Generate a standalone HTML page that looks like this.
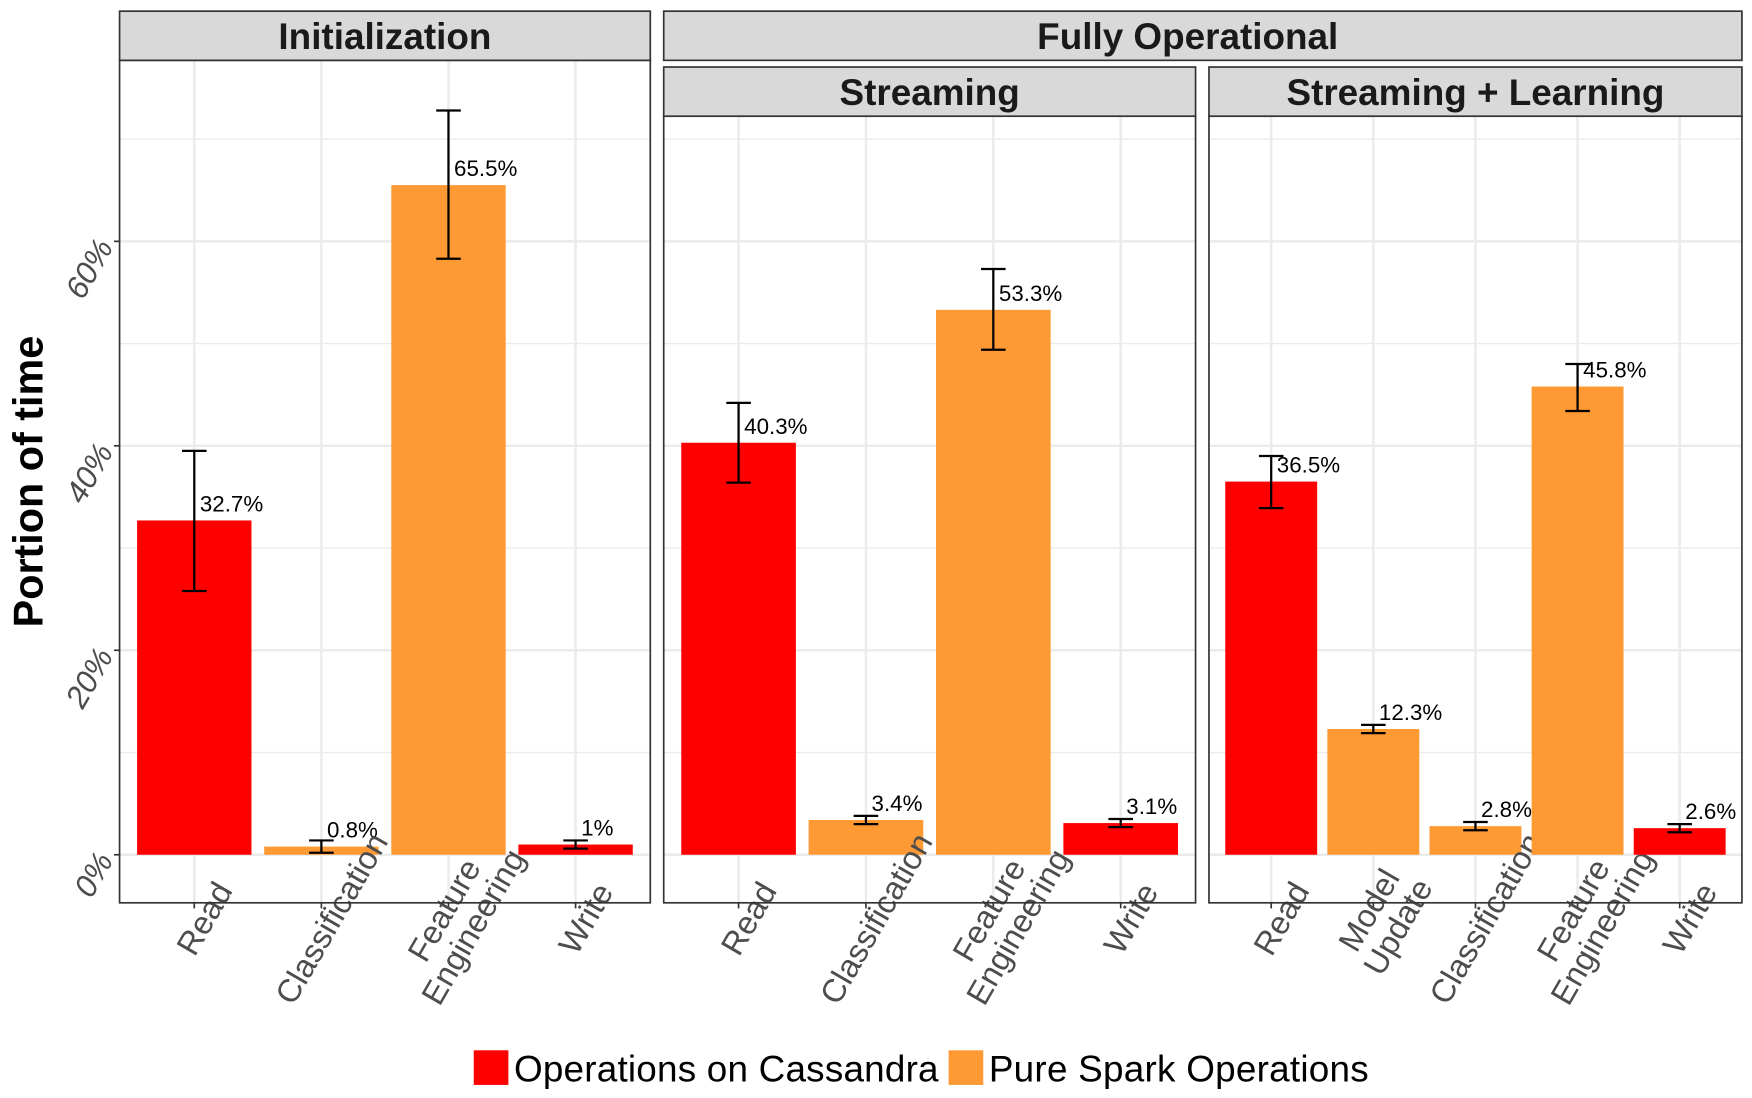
<!DOCTYPE html>
<html><head><meta charset="utf-8"><style>
html,body{margin:0;padding:0;background:#fff;}
svg{display:block;font-family:"Liberation Sans",sans-serif;}
</style></head><body>
<svg id="chart" width="1752" height="1098" viewBox="0 0 1568 982.7" xmlns="http://www.w3.org/2000/svg">
<text x="0" y="0" transform="translate(38,431) rotate(-90)" text-anchor="middle" font-size="37" font-weight="bold" fill="#000">Portion of time</text>
<g>
<rect x="424" y="940" width="31" height="31" fill="#ff0000"/>
<text x="460" y="968" font-size="33" fill="#000" textLength="380">Operations on Cassandra</text>
<rect x="849" y="940" width="31" height="31" fill="#ff9933"/>
<text x="885" y="968" font-size="33" fill="#000" textLength="340">Pure Spark Operations</text>
</g>
<g>
<rect x="594" y="10" width="965" height="44" fill="#d9d9d9" stroke="#333" stroke-width="1.5"/>
<text x="1063" y="44" text-anchor="middle" font-size="33" font-weight="bold" fill="#1a1a1a">Fully Operational</text>
</g>
</svg>
<script>
const p1Cats = ["Read","Classification","Feature\nEngineering","Write"];
const p1Vals = [32.7,0.8,65.5,1];
const p1Lo = [25.8,0.2,58.3,0.6];
const p1Hi = [39.5,1.4,72.8,1.4];
const p1Type = ["c","s","s","c"];
const p2Cats = ["Read","Classification","Feature\nEngineering","Write"];
const p2Vals = [40.3,3.4,53.3,3.1];
const p2Lo = [36.4,3.0,49.4,2.7];
const p2Hi = [44.2,3.8,57.3,3.5];
const p2Type = ["c","s","s","c"];
const p3Cats = ["Read","Model\nUpdate","Classification","Feature\nEngineering","Write"];
const p3Vals = [36.5,12.3,2.8,45.8,2.6];
const p3Lo = [33.9,11.9,2.4,43.4,2.2];
const p3Hi = [39.0,12.7,3.2,48.0,3.0];
const p3Type = ["c","s","s","s","c"];
const yTicks = [0,20,40,60];
const yMinor = [10,30,50,70];

const NS="http://www.w3.org/2000/svg";
const svg=document.getElementById('chart');
const Y0=765, PX=9.15;
function y(v){return Y0-v*PX;}
function mk(tag,attrs,parent){const e=document.createElementNS(NS,tag);for(const k in attrs)e.setAttribute(k,attrs[k]);(parent||svg).appendChild(e);return e;}
const colors={c:"#ff0000",s:"#ff9933"};

function panel(name,x0,x1,stripY,stripTitle,cats,vals,lo,hi,types,showY){
  const g=mk('g',{});
  
  
  const top=stripY+44, bot=808;
  const bg=mk('rect',{x:x0,y:top,width:x1-x0,height:bot-top,fill:"#fff"},g);
  
  
  const n=cats.length, pad=10, step=(x1-x0-2*pad)/n;
  const cx=i=>x0+pad+(i+0.5)*step;
  yMinor.forEach(v=>{ if(y(v)>top){const l=mk('line',{x1:x0,x2:x1,y1:y(v),y2:y(v),stroke:"#ebebeb","stroke-width":1.2},g);
    
    }});
  yTicks.forEach(v=>{const l=mk('line',{x1:x0,x2:x1,y1:y(v),y2:y(v),stroke:"#ebebeb","stroke-width":2.2},g);
    
    });
  cats.forEach((c,i)=>{const l=mk('line',{x1:cx(i),x2:cx(i),y1:top,y2:bot,stroke:"#ebebeb","stroke-width":2.2},g);
    
    });
  cats.forEach((c,i)=>{
    const bw=step*0.9;
    const r=mk('rect',{x:cx(i)-bw/2,y:y(vals[i]),width:bw,height:Y0-y(vals[i]),fill:colors[types[i]]},g);
    
    
    const eb=mk('path',{d:`M${cx(i)-11},${y(hi[i])}H${cx(i)+11}M${cx(i)},${y(hi[i])}V${y(lo[i])}M${cx(i)-11},${y(lo[i])}H${cx(i)+11}`,stroke:"#000","stroke-width":2,fill:"none"},g);
    
    
    const t=mk('text',{x:cx(i)+5,y:y(vals[i])-8,"font-size":20,fill:"#000"},g);
    t.textContent=vals[i]+'%';
    
    
    const tk=mk('line',{x1:cx(i),x2:cx(i),y1:bot,y2:bot+5,stroke:"#333","stroke-width":1.5},g);
    
    
    const lines=c.split('\n');
    const lx=cx(i)+9, ly=822;
    const lt=mk('text',{transform:`translate(${lx},${ly}) rotate(-60)`,"text-anchor":"middle","font-size":29,fill:"#4d4d4d"},g);
    
    
    lines.forEach((s,k)=>{const off=(k-(lines.length-1)/2)*30;
      const ts=mk('tspan',{x:0,y:off+10},lt);ts.textContent=s;});
  });
  const fr=mk('rect',{x:x0,y:top,width:x1-x0,height:bot-top,fill:"none",stroke:"#333","stroke-width":1.5},g);
  
  
  const sr=mk('rect',{x:x0,y:stripY,width:x1-x0,height:44,fill:"#d9d9d9",stroke:"#333","stroke-width":1.5},g);
  
  
  const st=mk('text',{x:(x0+x1)/2,y:stripY+34,"text-anchor":"middle","font-size":33,"font-weight":"bold",fill:"#1a1a1a"},g);
  st.textContent=stripTitle;
  
  
  if(showY){
    yTicks.forEach(v=>{
      const tk=mk('line',{x1:x0-5,x2:x0,y1:y(v),y2:y(v),stroke:"#333","stroke-width":1.5},g);
      
      
      const t=mk('text',{transform:`translate(${x0-5},${y(v)+5}) rotate(-60)`,"text-anchor":"end","font-size":28,"font-style":"italic",fill:"#4d4d4d"},g);
      t.textContent=v+'%';
      
      
    });
  }
}
panel('panel-initialization',107,582,10,'Initialization',p1Cats,p1Vals,p1Lo,p1Hi,p1Type,true);
panel('panel-streaming',594,1070,60,'Streaming',p2Cats,p2Vals,p2Lo,p2Hi,p2Type,false);
panel('panel-streaming-learning',1082,1559,60,'Streaming + Learning',p3Cats,p3Vals,p3Lo,p3Hi,p3Type,false);
</script>
</body></html>
